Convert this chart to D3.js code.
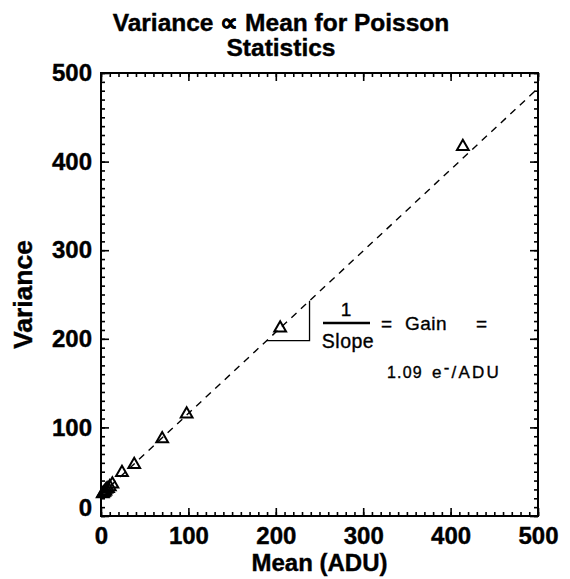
<!DOCTYPE html>
<html><head><meta charset="utf-8">
<script src="https://cdn.jsdelivr.net/npm/d3@7"></script>
<style>body{margin:0;background:#fff}svg{display:block}</style>
</head><body><svg id="c" width="570" height="579"></svg>
<script>
// ---- data ----
const meanADU   = [2, 3, 4, 5, 6, 8, 10, 13, 24, 38, 70, 98, 205, 414];
const varianceV = [25, 26, 27, 28, 30, 31, 33, 36, 49, 58, 87, 115, 212, 417];
const xTicks = [0, 100, 200, 300, 400, 500];
const yTicks = [0, 100, 200, 300, 400, 500];
const minorTicks = d3.range(0, 501, 10);
const gain = 1.09;          // e-/ADU
const fitIntercept = 24;    // variance at mean 0
const fitRange = [0, 500];
const slopeMarkX = [189.5, 238.6];
const titleLines = ["Variance \u221D Mean for Poisson", "Statistics"];
const xLabel = "Mean (ADU)";
const yLabel = "Variance";

const FONT = "'Liberation Sans', Arial, Helvetica, sans-serif";
const svg = d3.select("#c");
svg.append("rect").attr("width", 570).attr("height", 579).attr("fill", "#fff");

const L = 101, R = 538, T = 73, B = 516;
const x = d3.scaleLinear().domain([0, 500]).range([L, R]);
const y = d3.scaleLinear().domain([0, 500]).range([B, T]);
const fit = v => fitIntercept + v / gain;

// title
svg.append("g").selectAll("text").data(titleLines).join("text")
  .attr("x", 281).attr("y", (d, i) => 31 + i * 25)
  .attr("text-anchor", "middle").attr("font-family", FONT)
  .attr("font-weight", "bold").attr("font-size", 24.5)
  .attr("stroke", "#000").attr("stroke-width", 0.4).text(d => d);

// axes helpers
function styleAxis(g) {
  g.select(".domain").remove();
  g.selectAll("line").attr("stroke", "#000").attr("stroke-width", 1.6);
  g.selectAll("text").attr("font-family", FONT).attr("font-weight", "bold")
    .attr("font-size", 24).attr("fill", "#000").attr("stroke", "#000").attr("stroke-width", 0.4);
}
// bottom
svg.append("g").attr("transform", `translate(0,${B})`)
  .call(d3.axisBottom(x).tickValues(minorTicks).tickSize(-4).tickFormat("")).call(styleAxis);
svg.append("g").attr("transform", `translate(0,${B})`)
  .call(d3.axisBottom(x).tickValues(xTicks).tickSize(-8).tickPadding(11).tickFormat(d3.format("d"))).call(styleAxis);
// top
svg.append("g").attr("transform", `translate(0,${T})`)
  .call(d3.axisTop(x).tickValues(minorTicks).tickSize(-4).tickFormat("")).call(styleAxis);
svg.append("g").attr("transform", `translate(0,${T})`)
  .call(d3.axisTop(x).tickValues(xTicks).tickSize(-8).tickFormat("")).call(styleAxis);
// left
svg.append("g").attr("transform", `translate(${L},0)`)
  .call(d3.axisLeft(y).tickValues(minorTicks).tickSize(-4).tickFormat("")).call(styleAxis);
const yl = svg.append("g").attr("transform", `translate(${L},0)`)
  .call(d3.axisLeft(y).tickValues(yTicks).tickSize(-8).tickPadding(9).tickFormat(d3.format("d"))).call(styleAxis);
yl.selectAll(".tick").filter(d => d === 0).select("text").attr("dy", "-0.02em");
// right
svg.append("g").attr("transform", `translate(${R},0)`)
  .call(d3.axisRight(y).tickValues(minorTicks).tickSize(-4).tickFormat("")).call(styleAxis);
svg.append("g").attr("transform", `translate(${R},0)`)
  .call(d3.axisRight(y).tickValues(yTicks).tickSize(-8).tickFormat("")).call(styleAxis);

// frame
svg.append("rect").attr("x", L).attr("y", T).attr("width", R - L).attr("height", B - T)
  .attr("fill", "none").attr("stroke", "#000").attr("stroke-width", 2);

// axis titles
svg.append("text").attr("x", (L + R) / 2).attr("y", 571).attr("text-anchor", "middle")
  .attr("font-family", FONT).attr("font-weight", "bold").attr("font-size", 24)
  .attr("stroke", "#000").attr("stroke-width", 0.4).text(xLabel);
svg.append("text").attr("transform", `translate(32,${(T + B) / 2}) rotate(-90)`)
  .attr("text-anchor", "middle").attr("font-family", FONT).attr("font-weight", "bold")
  .attr("font-size", 26.5).attr("stroke", "#000").attr("stroke-width", 0.4).text(yLabel);

// fit line
svg.append("path").datum(fitRange)
  .attr("d", d3.line().x(d => x(d)).y(d => y(fit(d))))
  .attr("fill", "none").attr("stroke", "#000").attr("stroke-width", 1.4)
  .attr("stroke-dasharray", "7,6");

// points
const tri = d3.symbol().type(d3.symbolTriangle).size(60);
svg.append("g").selectAll("path").data(meanADU.map((m, i) => [m, varianceV[i]])).join("path")
  .attr("transform", d => `translate(${x(d[0])},${y(d[1])})`)
  .attr("d", tri).attr("fill", "none").attr("stroke", "#000").attr("stroke-width", 2);

// slope marker
const [sx0, sx1] = slopeMarkX;
svg.append("path")
  .attr("d", `M${x(sx0)},${y(fit(sx0))}H${x(sx1)}V${y(fit(sx1))}`)
  .attr("fill", "none").attr("stroke", "#000").attr("stroke-width", 1.3);

// annotation
const ann = svg.append("g").attr("font-family", FONT).attr("fill", "#000")
  .attr("stroke", "#000").attr("stroke-width", 0.35);
ann.append("text").attr("x", 346).attr("y", 316).attr("text-anchor", "middle")
  .attr("font-size", 19).text("1");
ann.append("line").attr("x1", 323).attr("x2", 370).attr("y1", 323).attr("y2", 323)
  .attr("stroke", "#000").attr("stroke-width", 2.5);
ann.append("text").attr("x", 348).attr("y", 348).attr("text-anchor", "middle")
  .attr("font-size", 19.5).attr("letter-spacing", 0.5).text("Slope");
ann.append("text").attr("x", 381).attr("y", 330).attr("font-size", 19).text("=");
ann.append("text").attr("x", 405).attr("y", 330).attr("font-size", 19).attr("letter-spacing", 0.5).text("Gain");
ann.append("text").attr("x", 476).attr("y", 330).attr("font-size", 19).text("=");
ann.append("text").attr("x", 387).attr("y", 378).attr("font-size", 16)
  .attr("letter-spacing", 1.2).text(gain.toFixed(2));
const g2 = ann.append("text").attr("x", 432).attr("y", 378).attr("font-size", 17)
  .attr("letter-spacing", 2.2);
g2.append("tspan").text("e");
g2.append("tspan").attr("dy", -5).text("-");
g2.append("tspan").attr("dy", 5).text("/ADU");
</script></body></html>
